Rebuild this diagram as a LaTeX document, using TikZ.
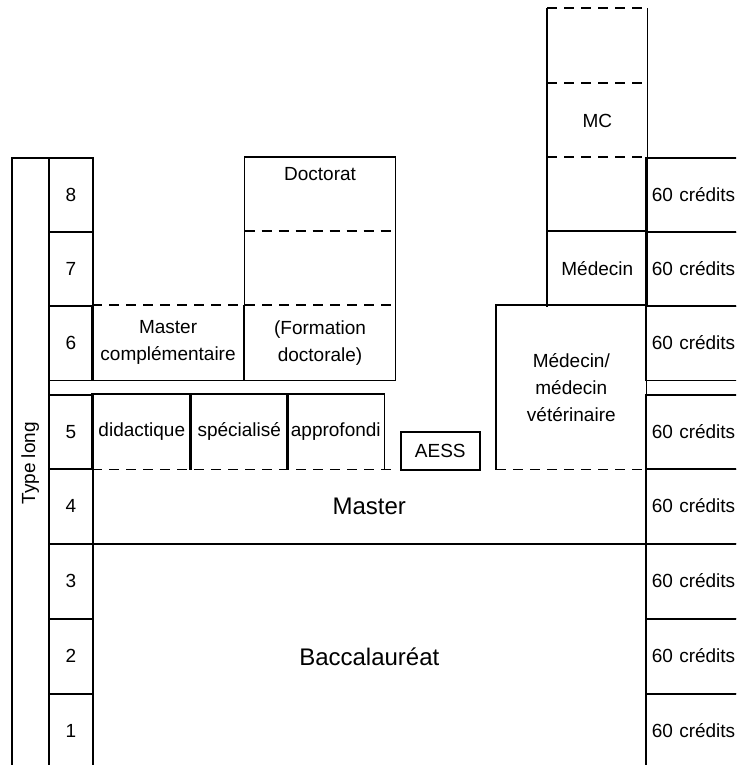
\documentclass[tikz,border=0pt]{standalone}
\usepackage{fontspec}
\setmainfont{Liberation Sans}
\usetikzlibrary{positioning}

\tikzset{
  cell/.style={rectangle, inner sep=0pt, align=center, anchor=north west,
    font=\fontsize{9.5}{13.5}\selectfont},
  numcell/.style={cell, draw, minimum width=22pt, minimum height=37.25pt},
  credit/.style={cell, draw, minimum width=60pt, minimum height=37.25pt,
    inner xsep=3pt, text width=54pt, align=left},
  big/.style={cell, font=\fontsize{12}{14}\selectfont},
  cutline/.style={dash pattern=on 5pt off 3.5pt}
}

\begin{document}
\begin{tikzpicture}[x=0.5pt, y=-0.5pt, line width=0.8pt]
\useasboundingbox (0,0) rectangle (736,765);
\clip (0,0) rectangle (736,765);

% left column
\node[cell, draw, minimum width=18.5pt, minimum height=305.5pt] (tl) at (11,157) {};
\node[rotate=90, font=\fontsize{9.5}{12}\selectfont] (tltxt) at (tl.center) {Type long};

% years and credits
\foreach \n/\y in {8/157,7/231,6/305,5/394,4/468,3/543,2/618,1/693}{
  \node[numcell] (n\n) at (48,\y) {\n};
  \node[credit] (c\n) at (645,\y) {60 cr\'edits};
}

% doctorat column
\node[cell, minimum width=74.75pt, minimum height=37pt] (doc) at (244.5,157) {};
\node[below=1.5pt of doc.north, font=\fontsize{9.5}{12}\selectfont] (doctxt) {Doctorat};
\node[cell, minimum width=74.75pt, minimum height=37pt] (dmid) at (244.5,231) {};
\node[cell, minimum width=74.75pt, minimum height=37pt] (fd) at (244.5,305) {(Formation\\doctorale)};
\draw (doc.north west) rectangle (fd.south east);
\draw[cutline] (dmid.north west) -- (dmid.north east);

% master complementaire
\node[cell, minimum width=75.25pt, minimum height=37pt] (mc) at (92,305) {Master\\compl\'ementaire};
\draw (mc.north west) -- (mc.south west) -- (mc.south east) -- (mc.north east);
\draw[cutline] (mc.north west) -- (fd.north east);

% master options
\node[cell, minimum width=49pt, minimum height=37pt] (dida) at (92,394) {didactique};
\node[cell, minimum width=48.5pt, minimum height=37pt] (spec) at (190,394) {sp\'ecialis\'e};
\node[cell, minimum width=48pt, minimum height=37pt] (appr) at (287,394) {approfondi};
\foreach \b in {dida,spec,appr}
  \draw (\b.south west) -- (\b.north west) -- (\b.north east) -- (\b.south east);
\draw[cutline] (dida.south west) -- ([xshift=5pt]appr.south east);

\node[cell, draw, minimum width=39.5pt, minimum height=19pt] (aess) at (400,431) {AESS};

% medecine
\node[cell, minimum width=74.5pt, minimum height=81.5pt] (veto) at (496,305) {M\'edecin/\\m\'edecin\\v\'et\'erinaire};
\draw (veto.south west) -- (veto.north west) -- (veto.north east) -- (veto.south east);
\draw[cutline] (veto.south west) -- (veto.south east);

\node[cell, minimum width=49.5pt, minimum height=37.5pt] (mtop) at (547,8) {};
\node[cell, minimum width=49.5pt, minimum height=37pt] (mcc) at (547,83) {MC};
\node[cell, minimum width=49.5pt, minimum height=37pt] (mvide) at (547,157) {};
\node[cell, minimum width=49.5pt, minimum height=37pt] (med) at (547,231) {M\'edecin};
\draw (med.south west) -- (mtop.north west);
\draw (med.south east) -- (mtop.north east);
\draw[cutline] (mtop.north west) -- (mtop.north east);
\draw[cutline] (mcc.north west) -- (mcc.north east);
\draw[cutline] (mvide.north west) -- (mvide.north east);
\draw (med.north west) -- (med.north east);

% premier et deuxieme cycle
\node[big, minimum width=276.5pt, minimum height=37.5pt] (master) at (92,468) {Master};
\node[big, draw, minimum width=276.5pt, minimum height=112.5pt] (bac) at (92,543) {Baccalaur\'eat};
\end{tikzpicture}
\end{document}
